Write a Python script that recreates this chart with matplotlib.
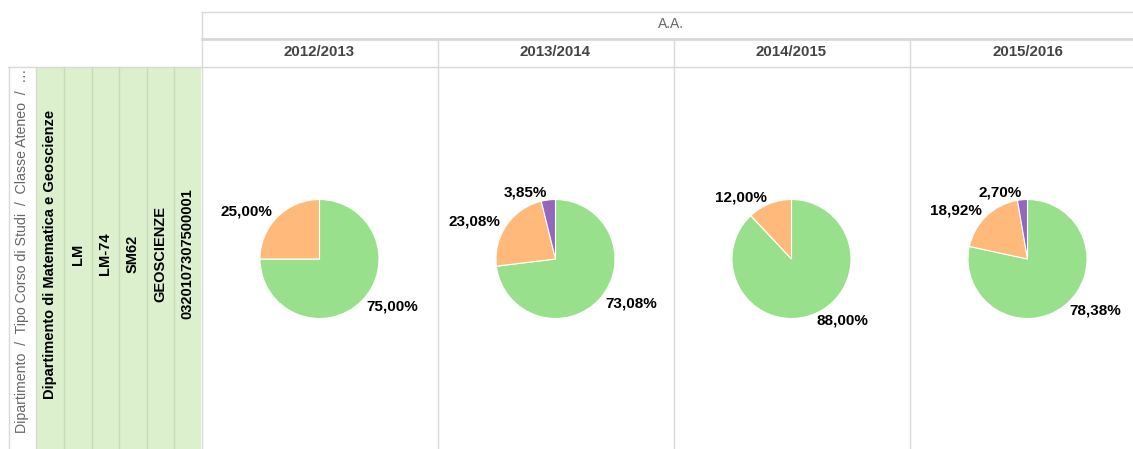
import matplotlib
matplotlib.use('Agg')
import matplotlib.pyplot as plt

plt.rcParams['font.family'] = ['Liberation Sans', 'DejaVu Sans']

# data
years = ['2012/2013', '2013/2014', '2014/2015', '2015/2016']
green = [75.00, 73.08, 88.00, 78.38]
orange = [25.00, 23.08, 12.00, 18.92]
purple = [0.00, 3.85, 0.00, 2.70]
row_labels = ['Dipartimento di Matematica e Geoscienze', 'LM', 'LM-74', 'SM62',
              'GEOSCIENZE', '0320107307500001']
header_left = 'Dipartimento  /  Tipo Corso di Studi  /  Classe Ateneo  /  \u2026'
header_top = 'A.A.'

W, H = 1133, 449
fig = plt.figure(figsize=(W / 100, H / 100), dpi=100)

# background axes in pixel coordinates for the table frame
bg = fig.add_axes([0, 0, 1, 1])
bg.set_xlim(0, W)
bg.set_ylim(H, 0)
bg.axis('off')

line_c = '#d9d9d9'
table_x, col_w = 201.5, 236
green_edges = [36, 64, 92, 119, 147, 174, 201]

# green row-header cells
bg.fill_between([green_edges[0], green_edges[-1]], 66.5, H, color='#dcf0cd', lw=0)
for x in green_edges[1:-1]:
    bg.plot([x, x], [66.5, H], color='#c9d9bd', lw=1)
bg.plot([green_edges[0], green_edges[0]], [66.5, H], color=line_c, lw=1)

# frame lines
bg.plot([table_x, W], [11.5, 11.5], color=line_c, lw=1)
bg.plot([table_x, W], [38.5, 38.5], color=line_c, lw=2)
bg.plot([8, W], [66.5, 66.5], color=line_c, lw=1)
bg.plot([table_x, table_x], [11.5, H], color=line_c, lw=1)
bg.plot([8.5, 8.5], [66.5, H], color=line_c, lw=1)
for i in range(1, len(years)):
    x = table_x + i * col_w
    bg.plot([x, x], [38.5, H], color=line_c, lw=1)

bg.text(671, 24, header_top, ha='center', va='center', fontsize=10, color='#666666')
for i, y in enumerate(years):
    bg.text(table_x + (i + 0.5) * col_w, 52, y, ha='center', va='center',
            fontsize=10.8, fontweight='bold', color='#444444')

bg.text(22, 69, header_left, rotation=90, ha='center', va='top',
        fontsize=10.2, color='#666666')
for i, lab in enumerate(row_labels):
    xc = (green_edges[i] + green_edges[i + 1]) / 2
    bg.text(xc, 254, lab, rotation=90, ha='center', va='center',
            fontsize=10.5, fontweight='bold', color='#000000')

# pies
colors = ['#98e08b', '#ffb97a', '#9467bd']
r = 59.5
cy = 259
for i in range(len(years)):
    vals, cols, labs = [], [], []
    for v, c in zip([green[i], orange[i], purple[i]], colors):
        if v > 0:
            vals.append(v)
            cols.append(c)
            labs.append(f'{v:.2f}%'.replace('.', ','))
    cx = table_x + (i + 0.5) * col_w
    ax = fig.add_axes([(cx - r) / W, 1 - (cy + r) / H, 2 * r / W, 2 * r / H])
    ax.pie(vals, colors=cols, labels=labs, startangle=90, counterclock=False,
           labeldistance=1.12, wedgeprops=dict(edgecolor='white', linewidth=0.8),
           textprops=dict(fontsize=11, fontweight='bold', color='#000000'))
    ax.set_xlim(-1, 1)
    ax.set_ylim(-1, 1)
    ax.axis('off')

fig.savefig('out.png', dpi=100)
